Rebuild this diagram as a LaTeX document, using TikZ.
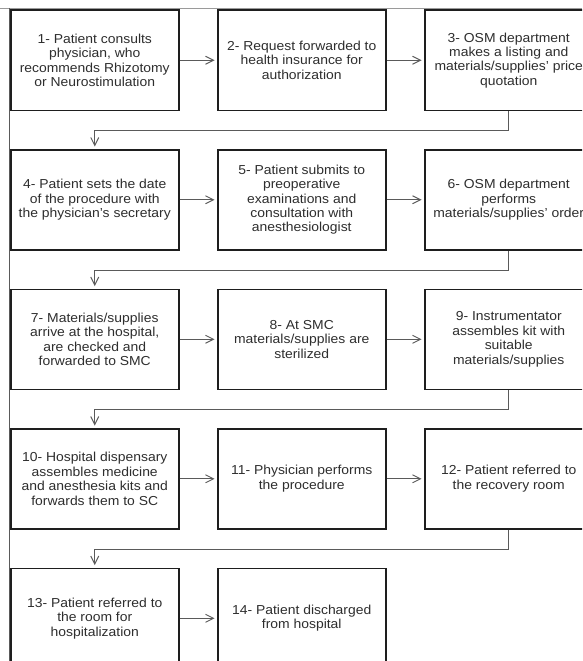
\documentclass[tikz,border=0pt]{standalone}
\usepackage{fontspec}
\setmainfont{Liberation Sans}[FakeStretch=1.07]
\usetikzlibrary{arrows.meta}
\definecolor{boxc}{HTML}{1E1E1E}
\definecolor{txtc}{HTML}{2E2E2E}
\definecolor{connc}{HTML}{5A5A5A}
\definecolor{framec}{HTML}{9A9A9A}
\begin{document}
\begin{tikzpicture}[x=1pt,y=-1pt,
  box/.style={draw=boxc, line width=1.5pt, minimum width=168pt, minimum height=100pt,
    inner sep=0pt, align=center, text=txtc, font=\fontsize{13}{14.4}\selectfont, anchor=north west},
  conn/.style={draw=connc, line width=0.9pt, -{Straight Barb[length=8pt,width=8pt]}, shorten >=2.5pt},
  elbow/.style={draw=connc, line width=0.9pt}]
\clip (0,0) rectangle (582,661);
\fill[white] (0,0) rectangle (582,661);
% frame
\draw[framec, line width=0.8pt] (0,8) -- (582,8);
\draw[connc, line width=1.2pt] (9.5,8) -- (9.5,661);
% row 1
\node[box] (b1) at (10,9.5) {1- Patient consults\\physician, who\\recommends Rhizotomy\\or Neurostimulation};
\node[box] (b2) at (217,9.5) {2- Request forwarded to\\health insurance for\\authorization};
\node[box] (b3) at (424,9.5) {3- OSM department\\makes a listing and\\materials/supplies' price\\quotation};
% row 2
\node[box] (b4) at (10,149) {4- Patient sets the date\\of the procedure with\\the physician's secretary};
\node[box] (b5) at (217,149) {5- Patient submits to\\preoperative\\examinations and\\consultation with\\anesthesiologist};
\node[box] (b6) at (424,149) {6- OSM department\\performs\\materials/supplies' order};
% row 3
\node[box] (b7) at (10,288.5) {7- Materials/supplies\\arrive at the hospital,\\are checked and\\forwarded to SMC};
\node[box] (b8) at (217,288.5) {8- At SMC\\materials/supplies are\\sterilized};
\node[box] (b9) at (424,288.5) {9- Instrumentator\\assembles kit with\\suitable\\materials/supplies};
% row 4
\node[box] (b10) at (10,428) {10- Hospital dispensary\\assembles medicine\\and anesthesia kits and\\forwards them to SC};
\node[box] (b11) at (217,428) {11- Physician performs\\the procedure};
\node[box] (b12) at (424,428) {12- Patient referred to\\the recovery room};
% row 5
\node[box] (b13) at (10,567.5) {13- Patient referred to\\the room for\\hospitalization};
\node[box] (b14) at (217,567.5) {14- Patient discharged\\from hospital};
% horizontal arrows
\foreach \a/\b in {b1/b2,b2/b3,b4/b5,b5/b6,b7/b8,b8/b9,b10/b11,b11/b12,b13/b14}
  \draw[conn] (\a.east) -- (\b.west);
% elbows
\foreach \a/\b in {b3/b4,b6/b7,b9/b10,b12/b13}
  \draw[conn] (\a.south) -- ++(0,19.75) -| (\b.north);
\end{tikzpicture}
\end{document}
